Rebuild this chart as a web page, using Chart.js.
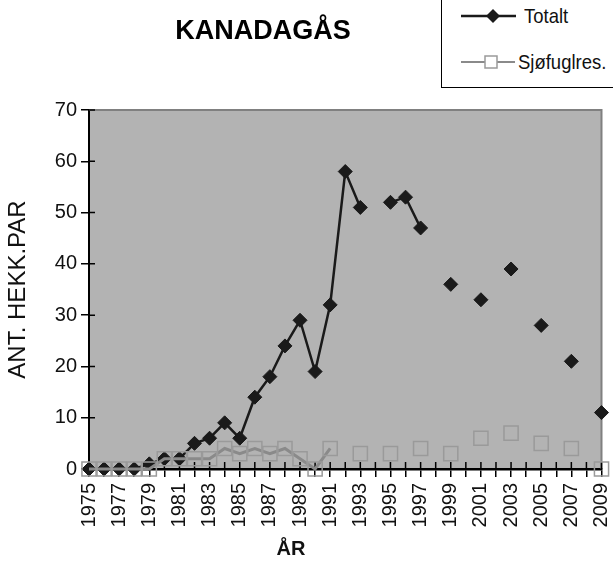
<!DOCTYPE html>
<html>
<head>
<meta charset="utf-8">
<script src="https://cdn.jsdelivr.net/npm/chart.js@4"></script>
<style>
  body { margin: 0; background: #fff; }
  #wrap { position: relative; width: 613px; height: 565px; overflow: hidden; font-family: 'Liberation Sans', Arial, sans-serif; }
  #chart { position: absolute; left: 0; top: 0; }
  #title { position: absolute; left: 163px; width: 200px; top: 15px; text-align: center; font-weight: bold; font-size: 27px; color: #000; }
  #xtitle { position: absolute; left: 271px; width: 40px; top: 537px; text-align: center; font-weight: bold; font-size: 20px; color: #111; }
  #legend { position: absolute; left: 441px; top: -2px; width: 220px; height: 88px; border: 1.5px solid #000; background: #fff; }
  .leg-row { position: absolute; left: 17px; display: flex; align-items: center; font-size: 21px; color: #111; }
  .leg-row span { display: inline-block; transform: scaleX(0.88); transform-origin: left center; }
</style>
</head>
<body>
<div id="wrap">
  <canvas id="chart" width="613" height="565"></canvas>
  <div id="title">KANADAGÅS</div>
  <div id="xtitle">ÅR</div>
  <div id="legend">
    <div class="leg-row" style="top:5px">
      <svg width="60" height="16"><line x1="2" y1="8" x2="57" y2="8" stroke="#1a1a1a" stroke-width="2.5"/><polygon points="34,1 41,8 34,15 27,8" fill="#1a1a1a"/></svg>
      <span style="margin-left:5px">Totalt</span>
    </div>
    <div class="leg-row" style="top:51px">
      <svg width="58" height="18"><line x1="2" y1="9" x2="56" y2="9" stroke="#8a8a8a" stroke-width="2"/><rect x="26" y="3" width="12" height="12" fill="#fff" stroke="#9a9a9a" stroke-width="1.5"/></svg>
      <span style="margin-left:1px">Sjøfuglres.</span>
    </div>
  </div>
</div>
<script>
// Kanadagås : antall hekkende par per år
const years = [];
for (let y = 1975; y <= 2009; y++) years.push(String(y));

const totalt = [
  0, 0, 0, 0, 1, 2, 2, 5, 6, 9,          // 1975-1984
  6, 14, 18, 24, 29, 19, 32, 58, 51, null, // 1985-1994
  52, 53, 47, null, 36, null, 33, null, 39, null, // 1995-2004
  28, null, 21, null, 11                 // 2005-2009
];

const sjofugl = [
  0, 0, 0, 0, 0, 2, 2, 2, 2, 4,
  3, 4, 3, 4, 2, 0, 4, null, 3, null,
  3, null, 4, null, 3, null, 6, null, 7, null,
  5, null, 4, null, 0
];

const yTicks = [0, 10, 20, 30, 40, 50, 60, 70];

const FONT = "'Liberation Sans', Arial, sans-serif";

// Fond gris + bordures haut/droite + graduations internes
const plotDecor = {
  id: 'plotDecor',
  beforeDraw(chart) {
    const { ctx, chartArea: a } = chart;
    ctx.save();
    ctx.fillStyle = '#b3b3b3';
    ctx.fillRect(a.left, a.top, a.right - a.left, a.bottom - a.top);
    ctx.restore();
  },
  beforeDatasetsDraw(chart) {
    const { ctx, chartArea: a, scales } = chart;
    ctx.save();
    ctx.strokeStyle = '#808080';
    ctx.lineWidth = 2;
    ctx.beginPath();
    ctx.moveTo(a.left, a.top);
    ctx.lineTo(a.right, a.top);
    ctx.lineTo(a.right, a.bottom);
    ctx.stroke();

    ctx.strokeStyle = '#000';
    ctx.lineWidth = 1.5;
    ctx.beginPath();
    scales.x.ticks.forEach((t, i) => {
      const px = scales.x.getPixelForTick(i);
      ctx.moveTo(px, a.bottom);
      ctx.lineTo(px, a.bottom - 7);
    });
    scales.y.ticks.forEach((t, i) => {
      const py = scales.y.getPixelForTick(i);
      ctx.moveTo(a.left, py);
      ctx.lineTo(a.left + 6, py);
    });
    ctx.stroke();
    ctx.restore();
  },
};

new Chart(document.getElementById('chart'), {
  type: 'line',
  data: {
    labels: years,
    datasets: [
      {
        label: 'Sjøfuglres.',
        data: sjofugl,
        borderColor: '#8a8a8a',
        borderWidth: 3,
        pointStyle: 'rect',
        pointRadius: 10,
        pointBorderColor: '#9a9a9a',
        pointBorderWidth: 1.5,
        pointBackgroundColor: 'rgba(0,0,0,0)',
        tension: 0,
        clip: false,
        order: 0,
      },
      {
        label: 'Totalt',
        data: totalt,
        borderColor: '#1a1a1a',
        borderWidth: 2.5,
        pointStyle: 'rectRot',
        pointRadius: 7,
        pointBorderWidth: 1,
        pointBorderColor: '#1a1a1a',
        pointBackgroundColor: '#1a1a1a',
        tension: 0,
        clip: false,
        order: 1,
      },
    ],
  },
  options: {
    responsive: false,
    animation: false,
    layout: { padding: { top: 110, right: 10, left: 0, bottom: 0 } },
    plugins: { legend: { display: false }, tooltip: { enabled: false }, title: { display: false } },
    scales: {
      x: {
        offset: false,
        grid: { display: true, drawOnChartArea: false, drawTicks: true, tickLength: 8, color: '#000', lineWidth: 1.5 },
        border: { display: true, color: '#000', width: 2.5 },
        ticks: {
          autoSkip: false,
          minRotation: 90,
          maxRotation: 90,
          padding: 6,
          color: '#111',
          font: { family: FONT, size: 20 },
          callback: (v, i) => (i % 2 === 0 ? years[i] : ''),
        },
        afterFit: s => { s.height = 96; s.paddingLeft = 0; s.paddingRight = 0; },
      },
      y: {
        min: 0,
        max: 70,
        afterBuildTicks: s => { s.ticks = yTicks.map(v => ({ value: v })); },
        grid: { display: true, drawOnChartArea: false, drawTicks: true, tickLength: 8, color: '#000', lineWidth: 1.5 },
        border: { display: true, color: '#000', width: 2 },
        ticks: { padding: 4, color: '#111', font: { family: FONT, size: 20 } },
        title: {
          display: true,
          text: 'ANT. HEKK.PAR',
          color: '#111',
          font: { family: FONT, size: 24 },
          padding: { top: 4, bottom: 0 },
        },
        afterFit: s => { s.width = 89; s.paddingTop = 0; s.paddingBottom = 0; },
      },
    },
  },
  plugins: [plotDecor],
});
</script>
</body>
</html>
